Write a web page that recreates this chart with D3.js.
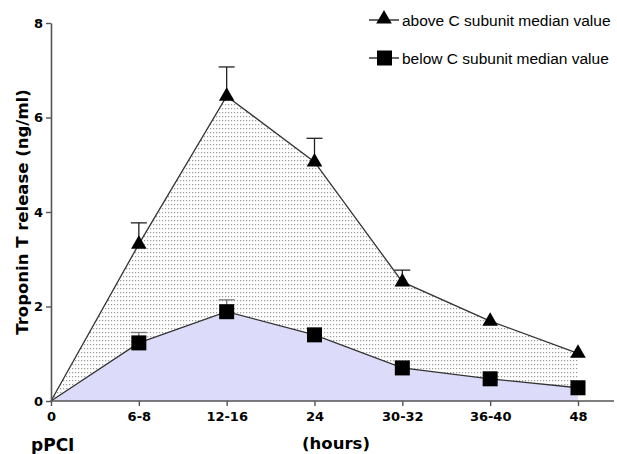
<!DOCTYPE html>
<html><head><meta charset="utf-8">
<script src="https://cdn.jsdelivr.net/npm/d3@7"></script>
<style>body{margin:0;background:#fff}svg{display:block}</style>
</head><body>
<script>
const categories = ["0","6-8","12-16","24","30-32","36-40","48"];
const aboveValues = [0, 3.32, 6.45, 5.06, 2.52, 1.69, 1.01];
const aboveErr    = [0, 0.45, 0.62, 0.50, 0.25, 0, 0];
const belowValues = [0, 1.23, 1.89, 1.40, 0.70, 0.47, 0.28];
const belowErr    = [0, 0.22, 0.25, 0, 0, 0, 0];
const yTicks = [0, 2, 4, 6, 8];
const legendLabels = ["above C subunit median value", "below C subunit median value"];

const W = 617, H = 454;
const svg = d3.select("body").append("svg").attr("width", W).attr("height", H);
const x = d3.scalePoint().domain(categories).range([51, 578]);
const y = d3.scaleLinear().domain([0, 8]).range([401, 23]);

const defs = svg.append("defs");
const pat = defs.append("pattern").attr("id","dots").attr("patternUnits","userSpaceOnUse")
  .attr("width",3).attr("height",4);
pat.append("rect").attr("width",3).attr("height",4).attr("fill","#fff");
pat.append("rect").attr("x",0).attr("y",0).attr("width",1.2).attr("height",1.2).attr("fill","#999");

const idx = d3.range(categories.length);
const band = d3.area().x(i => x(categories[i])).y0(i => y(belowValues[i])).y1(i => y(aboveValues[i]));
svg.append("path").datum(idx).attr("d", band).attr("fill","url(#dots)");
const lower = d3.area().x(i => x(categories[i])).y0(y(0)).y1(i => y(belowValues[i]));
svg.append("path").datum(idx).attr("d", lower).attr("fill","#dcdcfa");

function errBars(vals, errs, color){
  const g = svg.append("g").attr("stroke", color).attr("stroke-width",1.3);
  idx.filter(i => errs[i] > 0).forEach(i => {
    const cx = x(categories[i]);
    g.append("line").attr("x1",cx).attr("x2",cx).attr("y1",y(vals[i])).attr("y2",y(vals[i]+errs[i]));
    g.append("line").attr("x1",cx-8).attr("x2",cx+8).attr("y1",y(vals[i]+errs[i])).attr("y2",y(vals[i]+errs[i]));
  });
}
errBars(aboveValues, aboveErr, "#222");
errBars(belowValues, belowErr, "#777");

const line = vals => d3.line().x(i => x(categories[i])).y(i => y(vals[i]));
svg.append("path").datum(idx).attr("d", line(aboveValues)).attr("fill","none").attr("stroke","#333").attr("stroke-width",1.3);
svg.append("path").datum(idx).attr("d", line(belowValues)).attr("fill","none").attr("stroke","#333").attr("stroke-width",1.3);

const tri = d3.symbol().type(d3.symbolTriangle).size(105);
idx.slice(1).forEach(i => {
  svg.append("path").attr("d", tri()).attr("transform", `translate(${x(categories[i])},${y(aboveValues[i])})`).attr("fill","#000");
  svg.append("rect").attr("x", x(categories[i])-7.5).attr("y", y(belowValues[i])-7.5)
    .attr("width",15).attr("height",15).attr("fill","#000");
});

const axisColor = "#555";
const yAxis = svg.append("g").attr("transform","translate(51,0)")
  .call(d3.axisLeft(y).tickValues(yTicks).tickSize(5).tickSizeOuter(0).tickFormat(d3.format("d")));
const xAxis = svg.append("g").attr("transform","translate(0,401)")
  .call(d3.axisBottom(x).tickSize(5).tickSizeOuter(0));
xAxis.select(".domain").attr("d","M51,0H614");
[yAxis, xAxis].forEach(a => {
  a.select(".domain").attr("stroke",axisColor).attr("stroke-width",1.6);
  a.selectAll(".tick line").attr("stroke",axisColor).attr("stroke-width",1.4);
  a.selectAll("text").attr("fill","#000").style("font-family","'DejaVu Sans', Verdana, sans-serif")
    .style("font-weight","bold").style("font-size","13px");
});
yAxis.selectAll("text").attr("x",-8);
xAxis.selectAll("text").attr("y",11);

svg.append("text").attr("transform","translate(28,212) rotate(-90)").attr("text-anchor","middle")
  .style("font-family","'DejaVu Sans', Verdana, sans-serif").style("font-weight","bold").style("font-size","16.5px")
  .text("Troponin T release (ng/ml)");
svg.append("text").attr("x",31).attr("y",451)
  .style("font-family","'DejaVu Sans', Verdana, sans-serif").style("font-weight","bold").style("font-size","17px").text("pPCI");
svg.append("text").attr("x",336).attr("y",449).attr("text-anchor","middle")
  .style("font-family","'DejaVu Sans', Verdana, sans-serif").style("font-weight","bold").style("font-size","16.5px").text("(hours)");

const legY = [20, 58];
legendLabels.forEach((lab, k) => {
  const g = svg.append("g").attr("transform", `translate(0,${legY[k]})`);
  g.append("line").attr("x1",369).attr("x2",399).attr("y1",0).attr("y2",0).attr("stroke","#000").attr("stroke-width",1.2);
  if (k === 0) g.append("path").attr("d", tri()).attr("transform","translate(384,-1)").attr("fill","#000");
  else g.append("rect").attr("x",377).attr("y",-7.5).attr("width",15).attr("height",15).attr("fill","#000");
  g.append("text").attr("x",402).attr("y",5.5).style("font-family","'Liberation Sans', Arial, sans-serif")
    .style("font-size","15.5px").attr("fill","#000").text(lab);
});
</script>
</body></html>
